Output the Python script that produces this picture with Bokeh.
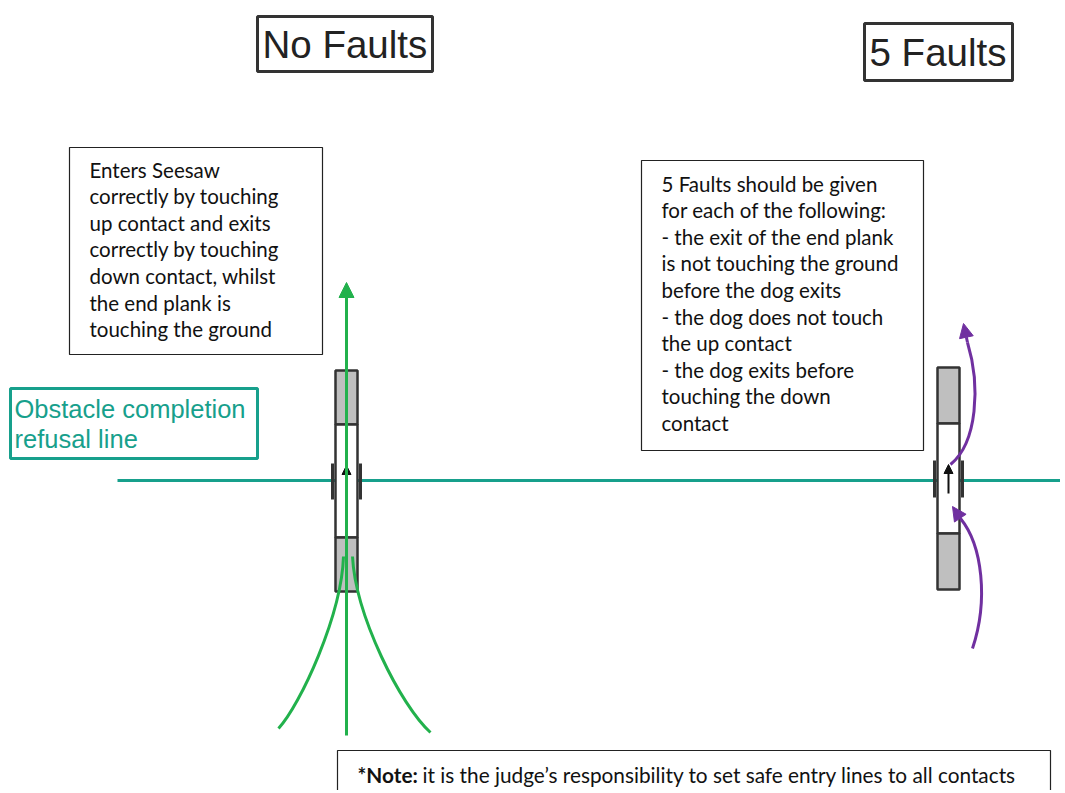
from bokeh.plotting import figure
from bokeh.models import Range1d, Arrow, NormalHead
from bokeh.core.properties import value
from bokeh.embed import file_html
from bokeh.resources import INLINE

# ---- content ----
titles = ["No Faults", "5 Faults"]
title_box_l = [257, 864]
title_box_r = [432, 1012]
title_box_t = [16, 23]
title_box_b = [71, 80]
title_x = [262, 869]
title_y = [44, 52]

left_lines = ["Enters Seesaw", "correctly by touching", "up contact and exits",
              "correctly by touching", "down contact, whilst", "the end plank is",
              "touching the ground"]
right_lines = ["5 Faults should be given", "for each of the following:",
               "- the exit of the end plank", "is not touching the ground",
               "before the dog exits", "- the dog does not touch", "the up contact",
               "- the dog exits before", "touching the down", "contact"]
info_box_l = [69, 641]
info_box_r = [322, 923]
info_box_t = [147, 160]
info_box_b = [354, 450]
info_text_x = [89, 661]
info_first_y = [169, 183]
line_step = 26.6

refusal_lines = ["Obstacle completion", "refusal line"]
refusal_box = dict(l=10, r=257, t=388, b=458)
refusal_text_y = [408, 438]
refusal_line_x = [117, 1065]
refusal_line_y = 480

# seesaws
seesaw_cx = [346, 948]
seesaw_top = [370, 367]
seesaw_up_end = [424, 423]
seesaw_down_start = [537, 533]
seesaw_bottom = [591, 589]
seesaw_half_w = 11
fulcrum_top = [463, 460]
fulcrum_bot = [499, 497]
fulcrum_dx = 14
small_arrow_start = [493, 493]
small_arrow_end = [465, 464]

# green path (no faults): two entry curves + straight exit arrow
green_x0 = [278, 430]
green_y0 = [728, 732]
green_cx0 = [300, 400]
green_cy0 = [704, 705]
green_cx1 = [341, 355]
green_cy1 = [615, 615]
green_x1 = [343, 352]
green_y1 = [556, 556]

# purple paths (5 faults)
purple_x0 = [950, 972]
purple_y0 = [464, 648]
purple_cx0 = [977, 988]
purple_cy0 = [442, 600]
purple_cx1 = [980, 982]
purple_cy1 = [385, 545]
purple_x1 = [967, 960]
purple_y1 = [342, 518]

note_bold = "*Note:"
note_rest = "it is the judge\u2019s responsibility to set safe entry lines to all contacts"

TEAL = "#17a08c"
GREEN = "#22b14c"
PURPLE = "#7030a0"
DARK = "#333333"

W, H = 1060, 790
p = figure(width=W, height=H, output_backend="svg", toolbar_location=None,
           x_range=Range1d(0, W), y_range=Range1d(H, 0), min_border=0)
p.axis.visible = False
p.grid.visible = False
p.outline_line_color = None
p.background_fill_color = "white"

# title boxes
p.quad(left=title_box_l, right=title_box_r, top=title_box_t, bottom=title_box_b,
       fill_color="white", line_color=DARK, line_width=3)
p.text(x=title_x, y=title_y, text=titles, text_font=value("Liberation Sans"),
       text_font_size="38.5px", text_baseline="middle", text_align="left", text_color="#222222")

# info boxes
p.quad(left=info_box_l, right=info_box_r, top=info_box_t, bottom=info_box_b,
       fill_color="white", line_color="#222222", line_width=1.2)
for lines, x0, y0 in [(left_lines, info_text_x[0], info_first_y[0]),
                      (right_lines, info_text_x[1], info_first_y[1])]:
    ys = [y0 + i * line_step for i in range(len(lines))]
    p.text(x=[x0] * len(lines), y=ys, text=lines, text_font=value("Lato"),
           text_font_size="20.5px", text_baseline="middle", text_align="left",
           text_color="#111111")

# refusal line + box
p.line(x=refusal_line_x, y=[refusal_line_y] * 2, line_color=TEAL, line_width=3)
p.quad(left=[refusal_box["l"]], right=[refusal_box["r"]], top=[refusal_box["t"]],
       bottom=[refusal_box["b"]], fill_color="white", line_color=TEAL, line_width=3)
p.text(x=[14, 14], y=refusal_text_y, text=refusal_lines, text_font=value("Liberation Sans"),
       text_font_size="25.5px", text_baseline="middle", text_align="left", text_color=TEAL)

# seesaws
for i, cx in enumerate(seesaw_cx):
    l, r = cx - seesaw_half_w, cx + seesaw_half_w
    p.quad(left=[l], right=[r], top=[seesaw_top[i]], bottom=[seesaw_up_end[i]],
           fill_color="#bfbfbf", line_color=DARK, line_width=2.5)
    p.quad(left=[l], right=[r], top=[seesaw_up_end[i]], bottom=[seesaw_down_start[i]],
           fill_color="white", line_color=DARK, line_width=2.5)
    p.quad(left=[l], right=[r], top=[seesaw_down_start[i]], bottom=[seesaw_bottom[i]],
           fill_color="#bfbfbf", line_color=DARK, line_width=2.5)
    for dx in (-fulcrum_dx, fulcrum_dx):
        p.line(x=[cx + dx, cx + dx], y=[fulcrum_top[i], fulcrum_bot[i]],
               line_color=DARK, line_width=3)
    p.add_layout(Arrow(x_start=cx, y_start=small_arrow_start[i], x_end=cx,
                       y_end=small_arrow_end[i], line_color="#111111", line_width=2,
                       end=NormalHead(size=9, fill_color="#111111", line_color="#111111")))

# green path
p.bezier(x0=green_x0, y0=green_y0, x1=green_x1, y1=green_y1,
         cx0=green_cx0, cy0=green_cy0, cx1=green_cx1, cy1=green_cy1,
         line_color=GREEN, line_width=3)
p.add_layout(Arrow(x_start=346, y_start=735, x_end=346, y_end=282, line_color=GREEN,
                   line_width=3, end=NormalHead(size=15, fill_color=GREEN, line_color=GREEN)))

# purple paths
p.bezier(x0=purple_x0, y0=purple_y0, x1=purple_x1, y1=purple_y1,
         cx0=purple_cx0, cy0=purple_cy0, cx1=purple_cx1, cy1=purple_cy1,
         line_color=PURPLE, line_width=3)
p.add_layout(Arrow(x_start=967, y_start=342, x_end=963, y_end=323, line_color=PURPLE,
                   line_width=3, end=NormalHead(size=14, fill_color=PURPLE, line_color=PURPLE)))
p.add_layout(Arrow(x_start=960, y_start=518, x_end=952, y_end=506, line_color=PURPLE,
                   line_width=3, end=NormalHead(size=14, fill_color=PURPLE, line_color=PURPLE)))

# bottom note
p.quad(left=[337], right=[1050], top=[750], bottom=[800], fill_color="white",
       line_color="#222222", line_width=1.2)
p.text(x=[357], y=[774], text=[note_bold], text_font=value("Lato"), text_font_style="bold",
       text_font_size="20.8px", text_baseline="middle", text_align="left", text_color="#111111")
p.text(x=[422], y=[774], text=[note_rest], text_font=value("Lato"),
       text_font_size="20.8px", text_baseline="middle", text_align="left", text_color="#111111")

open("out.html", "w").write(file_html(p, INLINE))
